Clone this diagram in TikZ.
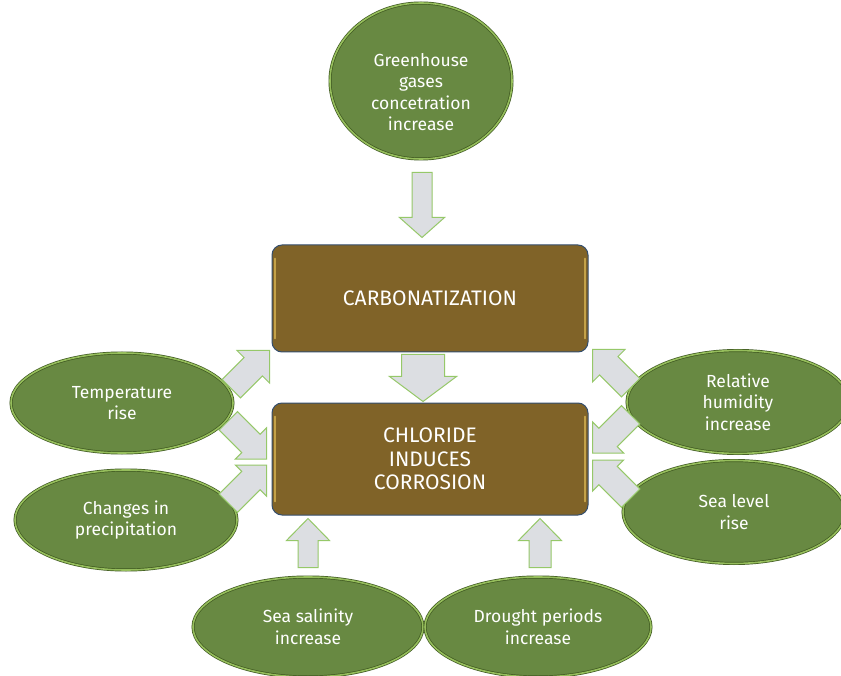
\documentclass[tikz,border=0pt]{standalone}
\usepackage{fontspec}
\setmainfont{Fira Sans}
\usetikzlibrary{shapes.geometric,calc}
\definecolor{greenfill}{RGB}{104,137,66}
\definecolor{ringdark}{RGB}{62,88,32}
\definecolor{ringlight}{RGB}{150,190,92}
\definecolor{boxfill}{RGB}{128,99,40}
\definecolor{boxline}{RGB}{52,78,110}
\definecolor{boxgold}{RGB}{214,178,80}
\definecolor{arrfill}{RGB}{220,222,226}
\definecolor{arrline}{RGB}{150,200,105}
\tikzset{
  oval/.style={ellipse, fill=greenfill, draw=ringdark, double=ringlight, double distance=1.6pt, line width=0.7pt,
    inner sep=0pt, align=center, text=white, font=\fontsize{17.5}{21.5}\selectfont},
  ovaltext/.style={inner sep=0pt, align=center, text=white, font=\fontsize{17.5}{21.5}\selectfont},
  mainbox/.style={rectangle, rounded corners=10pt, fill=boxfill, draw=boxline, line width=1pt,
    minimum width=316pt, align=center, text=white, font=\fontsize{21}{23.5}\selectfont},
  arrowsty/.style={fill=arrfill, draw=arrline, line width=1pt, line join=miter},
  goldedge/.style={draw=boxgold, line width=1.6pt, line cap=round, opacity=0.8}
}
% tip, angle, length, shaft half width, head half width, head length
\newcommand\blockarr[6]{%
  \draw[arrowsty, shift={#1}, rotate=#2] (0,0) -- (-#6,#5) -- (-#6,#4) -- (-#3,#4) -- (-#3,-#4) -- (-#6,-#4) -- (-#6,-#5) -- cycle;}
\begin{document}
\begin{tikzpicture}[x=1pt,y=-1pt]
\useasboundingbox (0,0) rectangle (841,676);
\fill[white] (0,0) rectangle (841,676);
\clip (0,0) rectangle (841,676);

% nodes
\node[oval, minimum width=182pt, minimum height=156pt] (gh) at (421,81) {};
\node[ovaltext] (ghtext) at ($(gh.center)+(0,11)$) {Greenhouse\\gases\\concetration\\increase};
\node[mainbox, minimum height=107pt] (carb) at (430,298.5) {CARBONATIZATION};
\node[mainbox, minimum height=112pt] (chl) at (430,459) {CHLORIDE\\INDUCES\\CORROSION};
\node[oval, minimum width=222pt, minimum height=100pt] (temp) at (122,403) {Temperature\\rise};
\node[oval, minimum width=222pt, minimum height=100pt] (prec) at (126,520) {Changes in\\precipitation};
\node[oval, minimum width=222pt, minimum height=103pt] (hum) at (738,402) {Relative\\humidity\\increase};
\node[oval, minimum width=222pt, minimum height=103pt] (sea) at (734,512) {Sea level\\rise};
\node[oval, minimum width=230pt, minimum height=100pt] (sal) at (308,627) {Sea salinity\\increase};
\node[oval, minimum width=226pt, minimum height=100pt] (dro) at (538,627) {Drought periods\\increase};

% gold highlights on the boxes
\foreach \b in {carb,chl}{
  \draw[goldedge] ($(\b.north west)+(3.5,14)$) -- ($(\b.south west)+(3.5,-14)$);
  \draw[goldedge] ($(\b.north east)+(-3.5,14)$) -- ($(\b.south east)+(-3.5,-14)$);
}

% block arrows
\blockarr{($(gh |- carb.north)+(1,-7)$)}{-90}{65}{10}{22.5}{20}
\blockarr{($(chl.north)+(-7,-1)$)}{-90}{47}{21.5}{33.5}{25}
\blockarr{($(carb.south west)+(-2,-2)$)}{45}{54}{13}{23}{23}
\blockarr{($(chl.west)+(-5,0)$)}{-45}{54}{13}{22}{22}
\blockarr{($(chl.west)+(-5,6)$)}{45}{54}{13}{22}{22}
\blockarr{($(carb.south east)+(4,-3)$)}{135}{54}{13}{23}{23}
\blockarr{($(chl.east)+(4,-6)$)}{-135}{54}{13}{22}{22}
\blockarr{($(chl.east)+(4,1)$)}{135}{54}{13}{22}{22}
\blockarr{($(sal |- chl.south)+(0,3)$)}{90}{49}{10}{21.5}{22}
\blockarr{($(dro |- chl.south)+(2,3)$)}{90}{49}{11}{21.5}{22}
\end{tikzpicture}
\end{document}
